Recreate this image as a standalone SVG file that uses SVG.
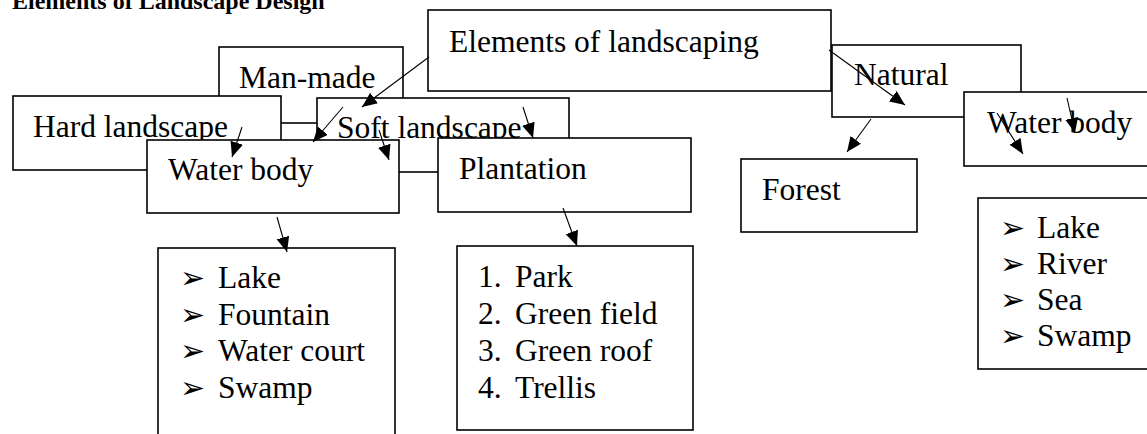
<svg xmlns="http://www.w3.org/2000/svg" width="1147" height="434" viewBox="0 0 1147 434">
<defs>
<style>
.box{fill:#fff;stroke:#000;stroke-width:1.6}
.t{font-family:"Liberation Serif","Times New Roman",serif;font-size:31.5px;fill:#000}
.b{font-family:"DejaVu Sans",sans-serif;font-size:30px;fill:#000}
.title{font-family:"Liberation Serif","Times New Roman",serif;font-size:24px;font-weight:bold;fill:#000}
.c{stroke:#000;stroke-width:1.1;fill:none;marker-end:url(#ah)}
</style>
<marker id="ah" markerUnits="userSpaceOnUse" markerWidth="18" markerHeight="16" refX="15" refY="6.5" orient="auto">
<path d="M0,0 L15,6.5 L0,13 z" fill="#000"/>
</marker>
</defs>
<rect width="1147" height="434" fill="#fff"/>
<text class="title" x="12" y="9">Elements of Landscape Design</text>

<g id="man-made"><rect class="box" x="219" y="47" width="184" height="76"/><text class="t" x="239" y="88">Man-made</text></g>
<g id="elements"><rect class="box" x="428" y="10" width="403" height="81"/><text class="t" x="449" y="52">Elements of landscaping</text></g>
<g id="hard"><rect class="box" x="13" y="96" width="268" height="74"/><text class="t" x="33" y="137">Hard landscape</text></g>
<g id="soft"><rect class="box" x="317" y="98" width="252" height="74"/><text class="t" x="337" y="138">Soft landscape</text></g>
<g id="water-left"><rect class="box" x="147" y="140" width="252" height="73"/><text class="t" x="168" y="180">Water body</text></g>
<g id="plantation"><rect class="box" x="438" y="138" width="253" height="74"/><text class="t" x="459" y="179">Plantation</text></g>
<g id="natural"><rect class="box" x="832" y="45" width="189" height="72"/><text class="t" x="854" y="85">Natural</text></g>
<g id="water-right"><rect class="box" x="964" y="92" width="200" height="74"/><text class="t" x="987" y="133">Water body</text></g>
<g id="forest"><rect class="box" x="741" y="159" width="176" height="73"/><text class="t" x="762" y="200">Forest</text></g>

<g id="list-water"><rect class="box" x="158" y="248" width="237" height="200"/>
<text class="b" x="180" y="288">➢</text><text class="t" x="218" y="288">Lake</text>
<text class="b" x="180" y="324.5">➢</text><text class="t" x="218" y="324.5">Fountain</text>
<text class="b" x="180" y="361">➢</text><text class="t" x="218" y="361">Water court</text>
<text class="b" x="180" y="397.5">➢</text><text class="t" x="218" y="397.5">Swamp</text></g>

<g id="list-plantation"><rect class="box" x="457" y="246" width="236" height="184"/>
<text class="t" x="478" y="287">1.</text><text class="t" x="515" y="287">Park</text>
<text class="t" x="478" y="324">2.</text><text class="t" x="515" y="324">Green field</text>
<text class="t" x="478" y="361">3.</text><text class="t" x="515" y="361">Green roof</text>
<text class="t" x="478" y="398">4.</text><text class="t" x="515" y="398">Trellis</text></g>

<g id="list-natural"><rect class="box" x="978" y="198" width="190" height="171"/>
<text class="b" x="1000" y="238">➢</text><text class="t" x="1037" y="238">Lake</text>
<text class="b" x="1000" y="274">➢</text><text class="t" x="1037" y="274">River</text>
<text class="b" x="1000" y="310">➢</text><text class="t" x="1037" y="310">Sea</text>
<text class="b" x="1000" y="346">➢</text><text class="t" x="1037" y="346">Swamp</text></g>

<g id="connectors">
<line class="c" x1="429" y1="57" x2="362" y2="107"/>
<line class="c" x1="343" y1="107" x2="313" y2="142"/>
<line class="c" x1="242" y1="127" x2="232" y2="157"/>
<line class="c" x1="379" y1="130" x2="389" y2="160"/>
<line class="c" x1="523" y1="107" x2="533" y2="138"/>
<line class="c" x1="829" y1="50" x2="905" y2="105"/>
<line class="c" x1="871" y1="119" x2="847" y2="152"/>
<line class="c" x1="1067" y1="98" x2="1075" y2="133"/>
<line class="c" x1="997" y1="113" x2="1023" y2="154"/>
<line class="c" x1="277" y1="217" x2="287" y2="252"/>
<line class="c" x1="563" y1="208" x2="577" y2="246"/>
</g>
</svg>
